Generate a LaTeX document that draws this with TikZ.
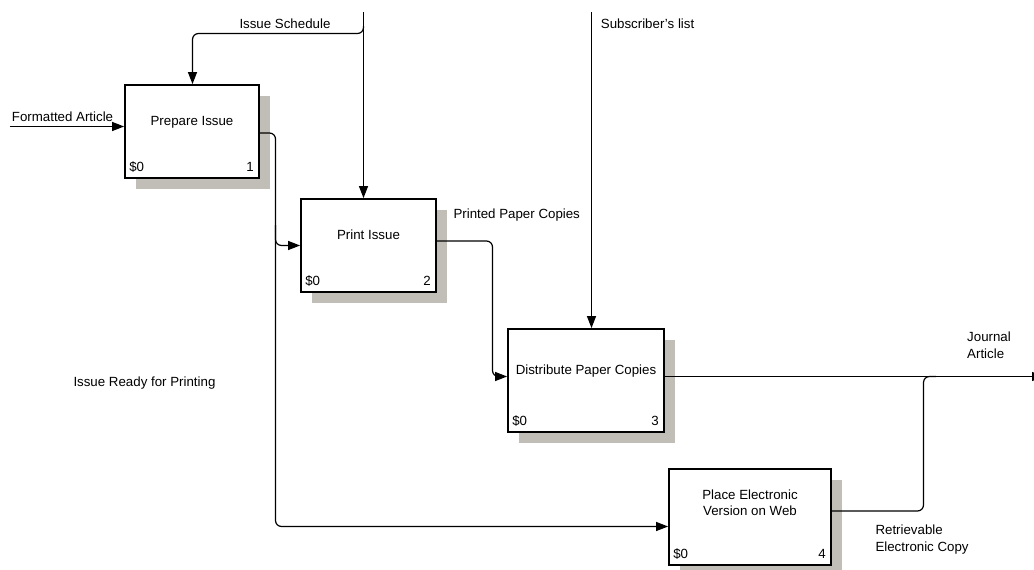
\documentclass[tikz,border=0pt]{standalone}
\usepackage{fontspec}
\setmainfont{Liberation Sans}
\usetikzlibrary{arrows.meta,shadows,calc}
\definecolor{shadowc}{RGB}{192,190,182}
\begin{document}
\begin{tikzpicture}[x=1pt,y=-1pt,
 every node/.style={font=\fontsize{13.3pt}{16.7pt}\selectfont, inner sep=0pt},
 fnbox/.style={draw=black, line width=1.8pt, fill=white,
   drop shadow={shadow xshift=11pt, shadow yshift=-11pt, fill=shadowc, opacity=1}},
 conn/.style={line width=1.2pt, rounded corners=6pt},
 arr/.style={conn, -{Triangle[length=12pt,width=9pt]}},
 lbl/.style={anchor=base west},
]
\useasboundingbox (0,0) rectangle (1034,570);

% boxes
\node[fnbox, minimum width=134pt, minimum height=93pt] (b1) at (192,131.5) {};
\node[fnbox, minimum width=135pt, minimum height=93pt] (b2) at (368.5,245.5) {};
\node[fnbox, minimum width=156pt, minimum height=103pt] (b3) at (586,380.5) {};
\node[fnbox, minimum width=162pt, minimum height=96pt] (b4) at (750,517) {};

% titles
\node[anchor=base] (t1) at ($(b1.north)+(0,41.7)$) {Prepare Issue};
\node[anchor=base] (t2) at ($(b2.north)+(0,41)$) {Print Issue};
\node[anchor=base] (t3) at ($(b3.north)+(0,46)$) {Distribute Paper Copies};
\node[anchor=base] (t4a) at ($(b4.north)+(0,31)$) {Place Electronic};
\node[anchor=base] (t4b) at ($(b4.north)+(0,47.7)$) {Version on Web};

% corner texts
\node[anchor=base west] (c1) at ($(b1.south west)+(5,-7)$) {\$0};
\node[anchor=base east] (n1) at ($(b1.south east)+(-6,-7)$) {1};
\node[anchor=base west] (c2) at ($(b2.south west)+(5,-7)$) {\$0};
\node[anchor=base east] (n2) at ($(b2.south east)+(-6,-7)$) {2};
\node[anchor=base west] (c3) at ($(b3.south west)+(5,-7)$) {\$0};
\node[anchor=base east] (n3) at ($(b3.south east)+(-6,-7)$) {3};
\node[anchor=base west] (c4) at ($(b4.south west)+(5,-7)$) {\$0};
\node[anchor=base east] (n4) at ($(b4.south east)+(-6,-7)$) {4};

% coordinates
\coordinate (faS) at (10,126.5);
\coordinate (isT) at (363.5,12);
\coordinate (isB) at (363.5,26);
\coordinate (isC) at (192.5,33.5);
\coordinate (slT) at (591.5,12);
\coordinate (irp) at (275.5,526.5);
\coordinate (brS) at (275.5,225);
\coordinate (pv) at (492.5,0);
\coordinate (jy) at (0,376.5);
\coordinate (jE) at (1044,376.5);
\coordinate (rv) at (923.5,376.5);
\coordinate (rj) at (936,376.5);

% connectors
\draw[arr] (faS) -- (faS -| b1.west);
\draw[arr] (isT) -- (isT |- b2.north);
\draw[arr] (isB) |- (isC) -- (isC |- b1.north);
\draw[arr] (slT) -- (slT |- b3.north);
\draw[arr] ($(b1.east)+(0,1.5)$) -| (irp) -- (irp -| b4.west);
\draw[arr] (brS) |- (b2.west);
\draw[arr] ($(b2.east)+(0,-4.5)$) -| (pv |- jy) -- (jy -| b3.west);
\draw[arr] (jy -| b3.east) -- (jE);
\draw[conn] ($(b4.east)+(0,-6)$) -| (rv) -- (rj);

% labels
\node[lbl] (lfa) at (11.7,121.5) {Formatted Article};
\node[lbl] (lis) at (239.3,28.3) {Issue Schedule};
\node[lbl] (lsl) at (600.7,28.3) {Subscriber's list};
\node[lbl] (lpp) at (453.3,218.3) {Printed Paper Copies};
\node[lbl] (lir) at (73.3,386) {Issue Ready for Printing};
\node[lbl] (lja) at (967,341) {Journal};
\node[lbl] (ljb) at (967,358) {Article};
\node[lbl] (lra) at (875.3,534.5) {Retrievable};
\node[lbl] (lrb) at (875.3,551) {Electronic Copy};
\end{tikzpicture}
\end{document}
